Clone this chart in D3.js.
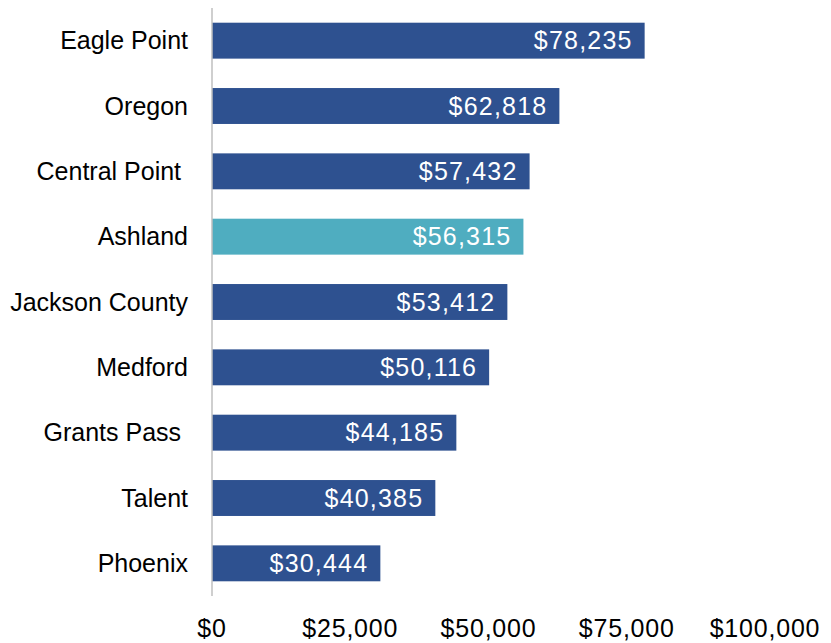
<!DOCTYPE html>
<html>
<head>
<meta charset="utf-8">
<script src="https://cdn.jsdelivr.net/npm/d3@7"></script>
<style>
  body { margin: 0; background: #fff; }
  text { font-family: "Liberation Sans", Arial, sans-serif; }
</style>
</head>
<body>
<div id="chart"></div>
<script>
// data
var places = ["Eagle Point", "Oregon", "Central Point ", "Ashland", "Jackson County", "Medford", "Grants Pass ", "Talent", "Phoenix"];
var incomes = [78235, 62818, 57432, 56315, 53412, 50116, 44185, 40385, 30444];
var tickValues = [0, 25000, 50000, 75000, 100000];
var highlight = "Ashland";

var width = 831, height = 643;
var svg = d3.select("#chart")
    .append("svg")
    .attr("width", width)
    .attr("height", height);

var x = d3.scaleLinear().domain([0, 100000]).range([212, 765]);
var y = d3.scaleBand().domain(places).range([8, 596]).paddingInner(0.45).paddingOuter(0.225);

var fmt = function(v) { return "$" + d3.format(",")(v); };

var rows = places.map(function(p, i) { return {name: p, value: incomes[i]}; });

// bars
svg.selectAll(".bar")
    .data(rows)
    .join("rect")
    .attr("class", "bar")
    .attr("x", x(0))
    .attr("y", function(d) { return y(d.name); })
    .attr("width", function(d) { return x(d.value) - x(0); })
    .attr("height", y.bandwidth())
    .attr("fill", function(d) { return d.name === highlight ? "#4FADC0" : "#2E5190"; });

// value labels inside bar end
svg.selectAll(".val")
    .data(rows)
    .join("text")
    .attr("class", "val")
    .attr("x", function(d) { return x(d.value) - 12; })
    .attr("y", function(d) { return y(d.name) + y.bandwidth() / 2; })
    .attr("dy", "0.35em")
    .attr("text-anchor", "end")
    .attr("font-size", "25px")
    .attr("letter-spacing", "1.2px")
    .attr("fill", "#fff")
    .text(function(d) { return fmt(d.value); });

// category labels
svg.selectAll(".cat")
    .data(rows)
    .join("text")
    .attr("class", "cat")
    .attr("x", 188)
    .attr("y", function(d) { return y(d.name) + y.bandwidth() / 2; })
    .attr("dy", "0.34em")
    .attr("text-anchor", "end")
    .attr("font-size", "25px")
    .attr("fill", "#000")
    .style("white-space", "pre")
    .text(function(d) { return d.name; });

// vertical axis line
svg.append("line")
    .attr("x1", x(0)).attr("x2", x(0))
    .attr("y1", y.range()[0]).attr("y2", y.range()[1])
    .attr("stroke", "#bfbfbf")
    .attr("stroke-width", 1.5);

// x tick labels
var xAxis = svg.append("g")
    .attr("transform", "translate(0,637)");
xAxis.selectAll("text")
    .data(tickValues)
    .join("text")
    .attr("x", function(d) { return x(d); })
    .attr("text-anchor", "middle")
    .attr("font-size", "25px")
    .attr("letter-spacing", "0.8px")
    .attr("fill", "#000")
    .text(fmt);
</script>
</body>
</html>
